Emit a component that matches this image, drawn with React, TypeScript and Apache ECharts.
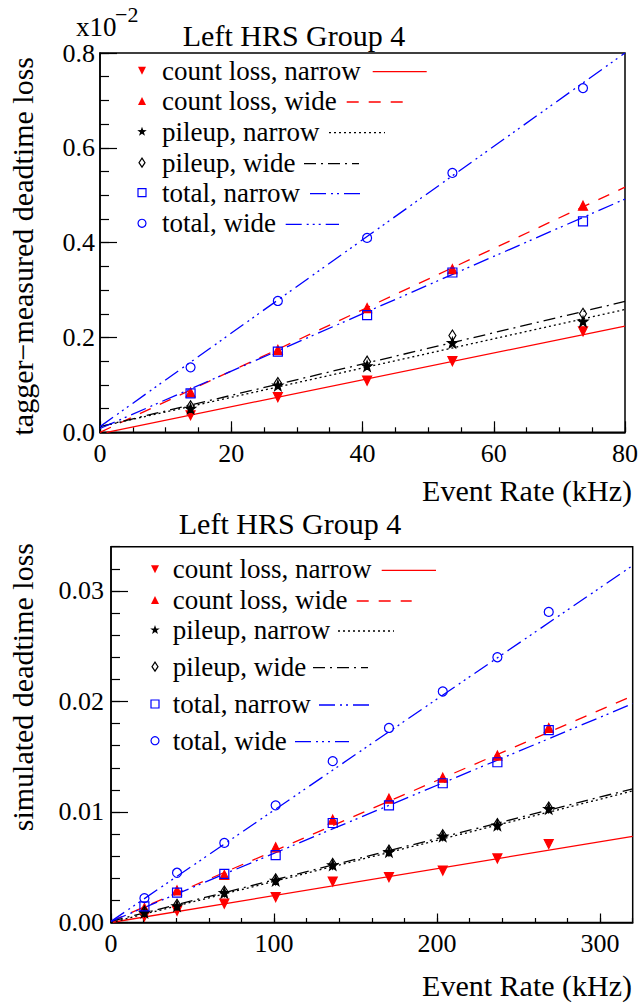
import React, { useEffect, useRef } from 'react';
import * as echarts from 'echarts';

// ---------- DATA ----------
const seriesNames = ['count loss, narrow', 'count loss, wide', 'pileup, narrow', 'pileup, wide', 'total, narrow', 'total, wide'];

// Top panel (tagger-measured, units of 10^-2)
const topRate = [13.8, 27.1, 40.7, 53.7, 73.6];
const topCountNarrow = [0.036, 0.074, 0.109, 0.150, 0.213];
const topCountWide = [0.084, 0.174, 0.262, 0.344, 0.478];
const topPileNarrow = [0.050, 0.099, 0.140, 0.189, 0.234];
const topPileWide = [0.055, 0.104, 0.149, 0.204, 0.250];
const topTotalNarrow = [0.082, 0.170, 0.247, 0.337, 0.445];
const topTotalWide = [0.137, 0.277, 0.410, 0.547, 0.726];
// fit line end points [x, y]
const topFitCountNarrow = [[1, 0], [80, 0.224]];
const topFitCountWide = [[0, 0.0], [80, 0.517]];
const topFitPileNarrow = [[0, 0.012], [80, 0.259]];
const topFitPileWide = [[0, 0.012], [80, 0.276]];
const topFitTotalNarrow = [[0, 0.008], [80, 0.492]];
const topFitTotalWide = [[0, 0.012], [80, 0.800]];

// Bottom panel (simulated)
const botRate = [20.5, 40.5, 69.5, 101, 136, 170.5, 203.5, 237, 268.5];
const botCountNarrow = [0.00055, 0.00106, 0.0017, 0.0023, 0.0037, 0.0041, 0.0047, 0.0058, 0.0071];
const botCountWide = [0.0013, 0.0029, 0.0043, 0.0068, 0.0093, 0.0112, 0.0131, 0.0151, 0.0176];
const botPileNarrow = [0.0009, 0.0015, 0.0027, 0.0038, 0.0052, 0.0064, 0.0078, 0.0088, 0.0103];
const botPileWide = [0.0010, 0.0016, 0.0028, 0.0039, 0.0053, 0.0065, 0.0079, 0.0089, 0.0104];
const botTotalNarrow = [0.00145, 0.0027, 0.0044, 0.0061, 0.0090, 0.0106, 0.0126, 0.0145, 0.0174];
const botTotalWide = [0.0022, 0.0045, 0.0072, 0.0106, 0.0146, 0.0176, 0.0209, 0.0240, 0.0281];
const botFitCountNarrow = [[0, 0], [320, 0.0078]];
const botFitCountWide = [[0, 0.0001], [320, 0.0205]];
const botFitPileNarrow = [[0, 0], [320, 0.0119]];
const botFitPileWide = [[0, 0.0001], [320, 0.0121]];
const botFitTotalNarrow = [[0, 0.0001], [320, 0.0198]];
const botFitTotalWide = [[0, 0.0001], [320, 0.0323]];

const topTitle = 'Left HRS Group 4';
const botTitle = 'Left HRS Group 4';
const xName = 'Event Rate (kHz)';
const topYName = 'tagger\u2212measured deadtime loss';
const botYName = 'simulated deadtime loss';

// ---------- STYLE ----------
const FONT = '"Liberation Serif", "Times New Roman", serif';
const RED = '#ff0000';
const BLUE = '#0000ff';
const BLACK = '#000000';
const colors = [RED, RED, BLACK, BLACK, BLUE, BLUE];
const dashes: any[] = ['solid', [12, 10], [2, 3], [12, 5, 2, 5], [16, 5, 2, 4, 2, 5], [16, 5, 2, 4, 2, 4, 2, 5]];
const STAR = 'path://M0,-10L2.35,-3.24L9.51,-3.09L3.8,1.24L5.88,8.09L0,4L-5.88,8.09L-3.8,1.24L-9.51,-3.09L-2.35,-3.24Z';
const marks: any[] = [
  { symbol: 'triangle', rotate: 180, size: 9, fill: RED, stroke: RED },
  { symbol: 'triangle', rotate: 0, size: 9, fill: RED, stroke: RED },
  { symbol: STAR, rotate: 0, size: 10, fill: BLACK, stroke: BLACK },
  { symbol: 'diamond', rotate: 0, size: [7, 11], fill: 'rgba(0,0,0,0)', stroke: BLACK },
  { symbol: 'rect', rotate: 0, size: 9, fill: 'rgba(0,0,0,0)', stroke: BLUE },
  { symbol: 'circle', rotate: 0, size: 9, fill: 'rgba(0,0,0,0)', stroke: BLUE },
];

function makeSeries(xi: number, yi: number, xs: number[], ys: number[][], fits: number[][][]) {
  const out: any[] = [];
  ys.forEach((vals, k) => {
    out.push({
      type: 'line', xAxisIndex: xi, yAxisIndex: yi, data: fits[k], symbol: 'none', silent: true, z: 2,
      lineStyle: { color: colors[k], width: 1.3, type: dashes[k] },
    });
  });
  ys.forEach((vals, k) => {
    const m = marks[k];
    out.push({
      type: 'scatter', xAxisIndex: xi, yAxisIndex: yi, name: seriesNames[k], z: 3,
      data: xs.map((x, i) => [x, vals[i]]),
      symbol: m.symbol, symbolSize: m.size, symbolRotate: m.rotate,
      itemStyle: { color: m.fill, borderColor: m.stroke, borderWidth: 1.2, opacity: 1 },
    });
  });
  return out;
}

function axisPair(kind: 'x' | 'y', gridIndex: number, min: number, max: number, interval: number, minorInterval: number,
  majorLen: number, minorLen: number, fmt: (v: number) => string, margin: number, hideMax: boolean) {
  const major: any = {
    type: 'value', gridIndex, min, max, interval, position: kind === 'x' ? 'bottom' : 'left',
    axisLine: { show: true, onZero: false, lineStyle: { color: BLACK, width: 1.5 } },
    axisTick: { show: true, inside: true, length: majorLen, lineStyle: { color: BLACK, width: 1.2 } },
    axisLabel: { show: true, formatter: fmt, color: BLACK, fontFamily: FONT, fontSize: 26, margin, showMaxLabel: !hideMax, showMinLabel: true },
    splitLine: { show: false },
  };
  const minor: any = {
    type: 'value', gridIndex, min, max, interval: minorInterval, position: kind === 'x' ? 'bottom' : 'left',
    axisLine: { show: false, onZero: false },
    axisTick: { show: true, inside: true, length: minorLen, lineStyle: { color: BLACK, width: 1.2 } },
    axisLabel: { show: false },
    splitLine: { show: false },
  };
  return [major, minor];
}

function starPoints(cx: number, cy: number, r: number) {
  const pts: number[][] = [];
  for (let i = 0; i < 10; i++) {
    const rr = i % 2 === 0 ? r : r * 0.4;
    const a = -Math.PI / 2 + (i * Math.PI) / 5;
    pts.push([cx + rr * Math.cos(a), cy + rr * Math.sin(a)]);
  }
  return pts;
}

function legendMarker(k: number, cx: number, cy: number): any {
  const s = 4;
  switch (k) {
    case 0: return { type: 'polygon', shape: { points: [[cx - s, cy - s], [cx + s, cy - s], [cx, cy + s]] }, style: { fill: RED } };
    case 1: return { type: 'polygon', shape: { points: [[cx - s, cy + s], [cx + s, cy + s], [cx, cy - s]] }, style: { fill: RED } };
    case 2: return { type: 'polygon', shape: { points: starPoints(cx, cy, 5) }, style: { fill: BLACK } };
    case 3: return { type: 'polygon', shape: { points: [[cx, cy - 4.5], [cx + 3, cy], [cx, cy + 4.5], [cx - 3, cy]] }, style: { fill: 'none', stroke: BLACK, lineWidth: 1.2 } };
    case 4: return { type: 'rect', shape: { x: cx - 4, y: cy - 4, width: 8, height: 8 }, style: { fill: 'none', stroke: BLUE, lineWidth: 1.2 } };
    default: return { type: 'circle', shape: { cx, cy, r: 4 }, style: { fill: 'none', stroke: BLUE, lineWidth: 1.2 } };
  }
}

function legend(rows: number[], markerX: number, textX: number, samples: number[][]) {
  const els: any[] = [];
  seriesNames.forEach((name, k) => {
    const y = rows[k];
    els.push(legendMarker(k, markerX, y));
    els.push({ type: 'text', x: textX, y, style: { text: name, fill: BLACK, fontFamily: FONT, fontSize: 27, align: 'left', verticalAlign: 'middle' } });
    els.push({
      type: 'line', shape: { x1: samples[k][0], y1: y + 1, x2: samples[k][1], y2: y + 1 },
      style: { stroke: colors[k], lineWidth: 1.3, lineDash: dashes[k] === 'solid' ? null : dashes[k] },
    });
  });
  return els;
}

function txt(text: string, x: number, y: number, size: number, align: string, rotation = 0): any {
  return { type: 'text', x, y, rotation, style: { text, fill: BLACK, fontFamily: FONT, fontSize: size, align, verticalAlign: 'middle' } };
}

export default function App() {
  const ref = useRef<HTMLDivElement>(null);
  useEffect(() => {
    if (!ref.current) return;
    const chart = echarts.init(ref.current, null, { renderer: 'svg' });
    const [tx, txm] = axisPair('x', 0, 0, 80, 20, 5, 11, 5, (v) => String(v), 8, false);
    const [ty, tym] = axisPair('y', 0, 0, 0.8, 0.2, 0.05, 17, 9, (v) => v.toFixed(1), 5, false);
    const [bx, bxm] = axisPair('x', 1, 0, 320, 100, 20, 9, 4.5, (v) => String(v), 8, true);
    const [by, bym] = axisPair('y', 1, 0, 0.034, 0.01, 0.002, 17, 9, (v) => v.toFixed(2), 7, true);

    const option: any = {
      animation: false,
      backgroundColor: '#ffffff',
      grid: [
        { left: 100, right: 15, top: 53, bottom: 1003 - 432.3, show: true, borderColor: BLACK, borderWidth: 1.5, backgroundColor: 'transparent' },
        { left: 111, right: 8.3, top: 546.7, bottom: 1003 - 922.5, show: true, borderColor: BLACK, borderWidth: 1.5, backgroundColor: 'transparent' },
      ],
      xAxis: [tx, txm, bx, bxm],
      yAxis: [ty, tym, by, bym],
      series: [
        ...makeSeries(0, 0, topRate,
          [topCountNarrow, topCountWide, topPileNarrow, topPileWide, topTotalNarrow, topTotalWide],
          [topFitCountNarrow, topFitCountWide, topFitPileNarrow, topFitPileWide, topFitTotalNarrow, topFitTotalWide]),
        ...makeSeries(2, 2, botRate,
          [botCountNarrow, botCountWide, botPileNarrow, botPileWide, botTotalNarrow, botTotalWide],
          [botFitCountNarrow, botFitCountWide, botFitPileNarrow, botFitPileWide, botFitTotalNarrow, botFitTotalWide]),
      ],
      graphic: [
        txt(topTitle, 294, 35, 30, 'center'),
        txt(botTitle, 290, 523, 30, 'center'),
        txt('x10', 76, 27, 27, 'left'),
        txt('\u22122', 115, 14, 22, 'left'),
        txt(xName, 632, 490, 30, 'right'),
        txt(xName, 632, 985, 30, 'right'),
        txt(topYName, 22, 57, 30, 'right', Math.PI / 2),
        txt(botYName, 22, 543, 30, 'right', Math.PI / 2),
        ...legend([70.7, 101, 131.7, 162.7, 192.7, 223.3], 142, 162,
          [[372.7, 426.7], [346.7, 403], [329, 385], [304, 359], [310, 360], [285.7, 339]]),
        ...legend([569.3, 600, 630, 666.7, 704, 740.7], 155, 172.7,
          [[381.7, 436], [356.7, 411.7], [338, 394], [313, 368], [319, 369], [295, 349]]),
      ],
    };
    chart.setOption(option);
    return () => chart.dispose();
  }, []);
  return <div ref={ref} style={{ position: 'absolute', left: 0, top: 0, width: 641, height: 1003, background: '#fff' }} />;
}
